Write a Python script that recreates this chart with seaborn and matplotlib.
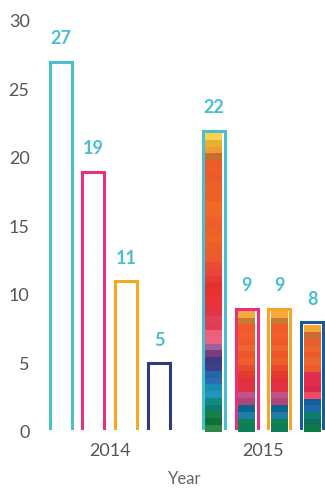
import numpy as np
import pandas as pd
import matplotlib
matplotlib.use("Agg")
import matplotlib.pyplot as plt
from matplotlib.patches import Rectangle
from matplotlib.colors import to_rgb
import seaborn as sns

# ---- data ----
years = ["2014", "2015"]
series = ["Group 1", "Group 2", "Group 3", "Group 4"]
values_2014 = [27, 19, 11, 5]
values_2015 = [22, 9, 9, 8]

edge_2014 = ["#4BBFCF", "#E8317A", "#F5A623", "#2B3B84"]
edge_2015 = ["#4BBFCF", "#E8317A", "#F5A623", "#155C93"]
label_color = "#4BBFCF"

# colour bands filling the 2015 bars, listed top to bottom
stripes_g1 = ["#FDD24A", "#E2B332", "#F39B2E", "#C96F2E",
              "#EE5B2B", "#F05C2A", "#EC5A29", "#EE5F29", "#EC6126", "#EE5E2B",
              "#F06A24", "#EE6A26", "#F0622A", "#EE5C2B", "#EF6027", "#F06426",
              "#EE5E2A", "#EF5A2C", "#EC5A2E",
              "#E94E34", "#E8463A", "#E63B32", "#E5302F", "#E8302F", "#E83337",
              "#E7343C", "#E3354A",
              "#E1405A", "#E23D57", "#EF5F7C", "#EE6382",
              "#A0609E", "#7A3F7A",
              "#3C3C85", "#3F4088",
              "#2464A8", "#2B6CB5",
              "#1B8DB5", "#1E96BE",
              "#138A7F", "#0E7B6E",
              "#168040", "#0D7138", "#2B8A48"]
stripes_g2 = ["#F6A93F", "#C87A2F", "#EE5A2A", "#EF5E2C", "#EE5B29", "#F06430",
              "#EC5828", "#EE5E2C", "#E94A2F", "#E73A2E", "#E0303F", "#E03246",
              "#C05388", "#B0457A", "#0B6592", "#1F7CA6", "#0C8256", "#0C7E55"]
stripes_g3 = list(stripes_g2)
stripes_g4 = ["#F7A535", "#C86C31", "#E5602E", "#EA6530", "#E85C2D", "#EC6533",
              "#EE5A2B", "#E02F4F", "#E12C50", "#D8294A", "#EE4A62", "#14609E",
              "#1C68A8", "#0E7E6C", "#0B6E5E", "#0D7A44"]
stripes_2015 = [stripes_g1, stripes_g2, stripes_g3, stripes_g4]

df = pd.DataFrame({
    "Year": [years[0]] * 4 + [years[1]] * 4,
    "series": series * 2,
    "value": values_2014 + values_2015,
})

# ---- figure ----
sns.set_theme(style="white")
plt.rcParams["font.family"] = ["Lato", "DejaVu Sans"]

fig = plt.figure(figsize=(3.25, 4.88), dpi=100)
ax = fig.add_axes([0.138, 0.115, 0.862, 0.842])

sns.barplot(data=df, x="Year", y="value", hue="series", order=years,
            hue_order=series, width=0.86, gap=0.33, fill=False,
            legend=False, ax=ax, errorbar=None, linewidth=2.2)

XLIM = (-0.425, 1.405)
ax.set_xlim(*XLIM)
ax.set_ylim(0, 30)
ax.set_yticks([0, 5, 10, 15, 20, 25, 30])
for s in ax.spines.values():
    s.set_visible(False)
ax.tick_params(axis="both", length=0, labelsize=13, colors="#555555")
ax.tick_params(axis="y", pad=11)
ax.tick_params(axis="x", pad=8)
ax.set_ylabel("")
ax.set_xlabel("Year", fontsize=12, color="#666666", labelpad=9)

fig.canvas.draw()
px_per_x = ax.transData.transform((1, 0))[0] - ax.transData.transform((0, 0))[0]
px_per_y = ax.transData.transform((0, 1))[1] - ax.transData.transform((0, 0))[1]
inset_x = 2.6 / px_per_x
inset_y = 2.6 / px_per_y

# hide the bottom edge of each outline below the baseline
clip_floor = 2.0 / px_per_y

for k, container in enumerate(ax.containers):
    edges = [edge_2014[k], edge_2015[k]]
    for j, bar in enumerate(container.patches):
        bar.set_edgecolor(edges[j])
        bar.set_facecolor("none")
        bar.set_zorder(3)
        clip = Rectangle((-5, clip_floor), 10, 100, transform=ax.transData)
        bar.set_clip_path(clip)
        if j == 1:
            x0 = bar.get_x()
            w = bar.get_width()
            h = bar.get_height()
            img = np.array([[to_rgb(c)] for c in stripes_2015[k]])
            ax.imshow(img, extent=(x0 + inset_x, x0 + w - inset_x, 0, h - inset_y),
                      aspect="auto", interpolation="nearest", zorder=2)
    ax.bar_label(container, labels=[f"{v:g}" for v in container.datavalues],
                 padding=10.5, color=label_color, fontsize=13, fontweight="bold")

ax.set_xlim(*XLIM)
ax.set_ylim(0, 30)

fig.savefig("out.png", dpi=100, facecolor="white")
